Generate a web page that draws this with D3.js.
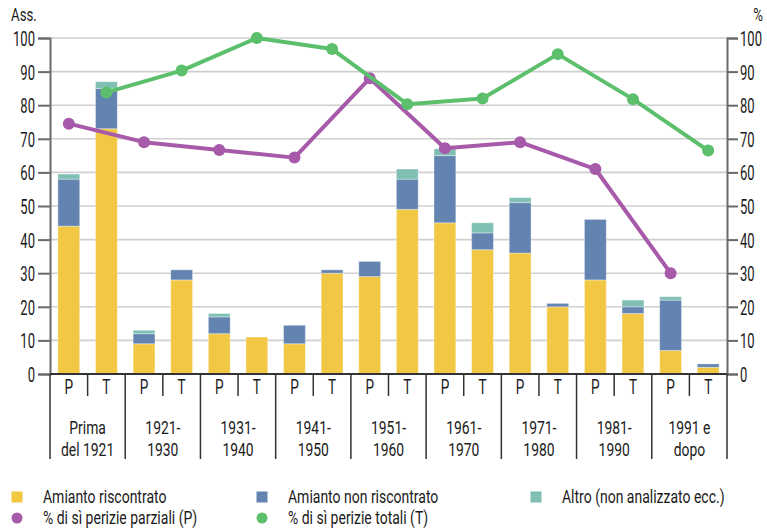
<!DOCTYPE html>
<html>
<head>
<meta charset="utf-8">
<script src="https://cdn.jsdelivr.net/npm/d3@7"></script>
<style>
  body { margin: 0; background: #fff; }
  svg text { font-family: Roboto, "DejaVu Sans", sans-serif; fill: #1a1a1a; }
</style>
</head>
<body>
<script>
// periodi (etichette su due righe)
const periods = [
  ["Prima", "del 1921"], ["1921-", "1930"], ["1931-", "1940"], ["1941-", "1950"],
  ["1951-", "1960"], ["1961-", "1970"], ["1971-", "1980"], ["1981-", "1990"], ["1991 e", "dopo"]
];

// valori per P (perizie parziali) e T (perizie totali)
const amiantoP = [44, 9, 12, 9, 29, 45, 36, 28, 7];
const amiantoT = [73, 28, 11, 30, 49, 37, 20, 18, 2];
const nonRiscP = [14, 3, 5, 5.5, 4.5, 20, 15, 18, 15];
const nonRiscT = [12, 3, 0, 1, 9, 5, 1, 2, 1];
const altroP   = [1.5, 1, 1, 0, 0, 2, 1.5, 0, 1];
const altroT   = [2, 0, 0, 0, 3, 3, 0, 2, 0];

const percP = [74.5, 69, 66.7, 64.4, 88, 67.2, 69, 61, 30];
const percT = [83.8, 90.3, 100, 96.7, 80.3, 82, 95.2, 81.8, 66.5];

const yTicks = d3.range(0, 101, 10);

const colors = { amianto: "#f2c744", non: "#6384b0", altro: "#7fbfb4", P: "#a75aa9", T: "#5cbf6c" };

const W = 767, H = 528;
const mLeft = 50, mRight = 727, mTop = 38, mBottom = 374;

const svg = d3.select("body").append("svg").attr("width", W).attr("height", H);

// testo "condensato": il font installato è largo, lo stringo in orizzontale
function ctext(parent, px, py, str, size, sx, anchor) {
  return parent.append("text")
    .attr("transform", `translate(${px},${py}) scale(${sx},1)`)
    .attr("font-size", size)
    .attr("text-anchor", anchor || "start")
    .text(str);
}

// tabella delle barre
const rows = [];
periods.forEach((p, i) => {
  rows.push({ key: i + "P", kind: "P", amianto: amiantoP[i], non: nonRiscP[i], altro: altroP[i] });
  rows.push({ key: i + "T", kind: "T", amianto: amiantoT[i], non: nonRiscT[i], altro: altroT[i] });
});

const x = d3.scaleBand().domain(rows.map(d => d.key)).range([mLeft, mRight]).paddingInner(0.42).paddingOuter(0.21);
const y = d3.scaleLinear().domain([0, 100]).range([mBottom, mTop]);
const step = x.step();
const bandStart = k => x(k) - x.paddingInner() * step / 2;   // limite sinistro della banda

// griglia
svg.append("g").selectAll("line").data(yTicks.filter(t => t > 0)).join("line")
  .attr("x1", mLeft).attr("x2", mRight)
  .attr("y1", d => y(d)).attr("y2", d => y(d))
  .attr("stroke", "#cfcfcf").attr("stroke-width", 1.6);

// barre impilate
const stack = d3.stack().keys(["amianto", "non", "altro"])(rows);
svg.append("g").selectAll("g").data(stack).join("g")
  .attr("fill", s => colors[s.key])
  .selectAll("rect").data(s => s).join("rect")
  .attr("x", d => x(d.data.key))
  .attr("width", x.bandwidth())
  .attr("y", d => y(d[1]))
  .attr("height", d => y(d[0]) - y(d[1]))
  .attr("stroke", "#fff").attr("stroke-opacity", 0.35).attr("stroke-width", 1);

// assi verticali
const tickSx = 0.62;
const axisL = d3.axisLeft(y).tickValues(yTicks).tickSize(12).tickPadding(3);
const axisR = d3.axisRight(y).tickValues(yTicks).tickSize(11).tickPadding(2);
[[axisL, mLeft], [axisR, mRight]].forEach(([ax, px]) => {
  const g = svg.append("g").attr("transform", `translate(${px},0)`).call(ax);
  g.select(".domain").attr("stroke", "#6a6a6a").attr("stroke-width", 2);
  g.selectAll(".tick line").attr("stroke", "#6a6a6a").attr("stroke-width", 2);
  g.selectAll(".tick text")
    .attr("font-size", 21).attr("font-family", null)
    .attr("x", function () { return +d3.select(this).attr("x") / tickSx; })
    .attr("transform", `scale(${tickSx},1)`)
    .attr("dy", "0.36em").attr("fill", "#1a1a1a");
});

ctext(svg, 11, 21, "Ass.", 19, 0.7);
ctext(svg, 763, 21, "%", 19, 0.7, "end");

// asse x
svg.append("line").attr("x1", mLeft).attr("x2", mRight).attr("y1", mBottom).attr("y2", mBottom)
  .attr("stroke", "#333").attr("stroke-width", 2);

const xg = svg.append("g");
rows.forEach((r, i) => {
  const bx = i === 0 ? mLeft : bandStart(r.key);
  xg.append("line").attr("x1", bx).attr("x2", bx).attr("y1", mBottom)
    .attr("y2", r.kind === "P" ? 459 : 396)
    .attr("stroke", "#333").attr("stroke-width", 1.5);
  ctext(xg, x(r.key) + x.bandwidth() / 2, 394, r.kind, 20, 0.68, "middle");
});
xg.append("line").attr("x1", mRight).attr("x2", mRight).attr("y1", mBottom).attr("y2", 459)
  .attr("stroke", "#333").attr("stroke-width", 1.5);

periods.forEach((p, i) => {
  const cx = x(i + "T") - x.paddingInner() * step / 2;
  p.forEach((line, j) => {
    ctext(xg, cx, 434 + j * 22, line, 19, 0.73, "middle");
  });
});

// linee percentuali
const line = d3.line().x(d => d.x).y(d => y(d.v));
[["P", percP], ["T", percT]].forEach(([k, vals]) => {
  const pts = vals.map((v, i) => ({ x: x(i + k) + x.bandwidth() / 2, v }));
  svg.append("path").datum(pts).attr("d", line)
    .attr("fill", "none").attr("stroke", colors[k]).attr("stroke-width", 4).attr("stroke-linejoin", "round");
  svg.append("g").selectAll("circle").data(pts).join("circle")
    .attr("cx", d => d.x).attr("cy", d => y(d.v)).attr("r", 6).attr("fill", colors[k]);
});

// legenda
const legend = [
  { label: "Amianto riscontrato", c: colors.amianto, shape: "rect", lx: 17, ly: 497 },
  { label: "Amianto non riscontrato", c: colors.non, shape: "rect", lx: 262, ly: 497 },
  { label: "Altro (non analizzato ecc.)", c: colors.altro, shape: "rect", lx: 536, ly: 497 },
  { label: "% di sì perizie parziali (P)", c: colors.P, shape: "circle", lx: 17, ly: 518 },
  { label: "% di sì perizie totali (T)", c: colors.T, shape: "circle", lx: 262, ly: 518 }
];
const lg = svg.append("g");
legend.forEach(d => {
  if (d.shape === "rect") {
    lg.append("rect").attr("x", d.lx - 5.5).attr("y", d.ly - 5.5).attr("width", 11).attr("height", 11).attr("fill", d.c);
  } else {
    lg.append("circle").attr("cx", d.lx).attr("cy", d.ly).attr("r", 5.5).attr("fill", d.c);
  }
  ctext(lg, d.lx + 26, d.ly + 5.5, d.label, 17.5, 0.8);
});
</script>
</body>
</html>
